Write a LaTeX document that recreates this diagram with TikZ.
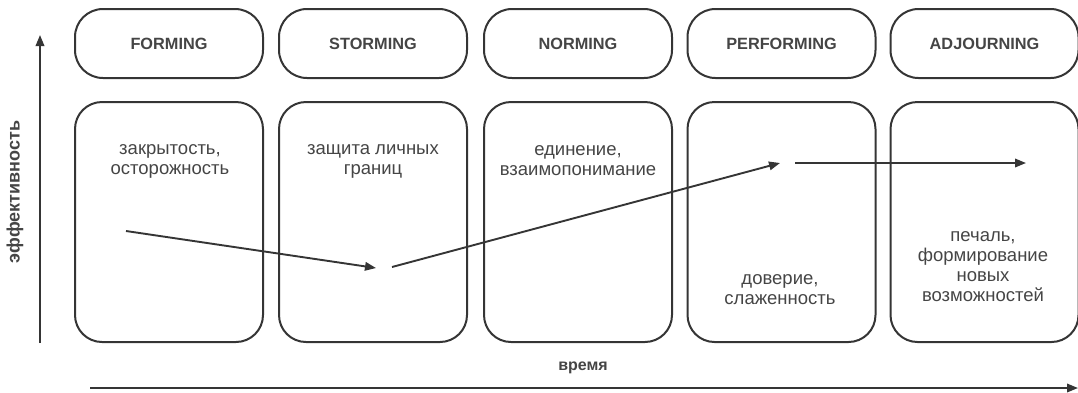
\documentclass[tikz,border=0pt]{standalone}
\usepackage{fontspec}
\setmainfont{Liberation Sans}
\usetikzlibrary{arrows.meta}
\definecolor{ln}{HTML}{353535}
\definecolor{tx}{HTML}{454545}
\tikzset{
  stagebox/.style={draw=ln, line width=2pt, rounded corners=28pt, minimum width=188pt, minimum height=69pt, inner sep=0pt},
  bigbox/.style={draw=ln, line width=2pt, rounded corners=27pt, minimum width=188pt, minimum height=240pt, inner sep=0pt},
  title/.style={text=tx, font=\fontsize{16.3}{19}\selectfont\bfseries},
  desc/.style={text=tx, font=\fontsize{18.5}{20}\selectfont, align=center, inner sep=0pt},
  arr/.style={draw=ln, line width=1.9pt, -{Triangle[length=11pt,width=8.5pt]}},
}
\begin{document}
\begin{tikzpicture}[x=1pt,y=-1pt]
\useasboundingbox (0,0) rectangle (1078,392);
% top stage boxes
\node[stagebox] (s1) at (169,43.5) {};
\node[stagebox] (s2) at (373,43.5) {};
\node[stagebox] (s3) at (578,43.5) {};
\node[stagebox] (s4) at (781.5,43.5) {};
\node[stagebox] (s5) at (984.5,43.5) {};
\node[title] (t1) at (s1) {FORMING};
\node[title] (t2) at (s2) {STORMING};
\node[title] (t3) at (s3) {NORMING};
\node[title] (t4) at (s4) {PERFORMING};
\node[title] (t5) at (s5) {ADJOURNING};
% lower boxes
\node[bigbox] (b1) at (169,222) {};
\node[bigbox] (b2) at (373,222) {};
\node[bigbox] (b3) at (578,222) {};
\node[bigbox] (b4) at (781.5,222) {};
\node[bigbox] (b5) at (984.5,222) {};
\node[desc] (d1) at (170,161) {закрытость,\\осторожность};
\node[desc] (d2) at (373,161) {защита личных\\границ};
\node[desc] (d3) at (578,161) {единение,\\взаимопонимание};
\node[desc] (d4) at (780,290) {доверие,\\слаженность};
\node[desc] (d5) at (983,267) {печаль,\\формирование\\новых\\возможностей};
% trend arrows
\coordinate (p1) at (126,231);
\coordinate (p2) at (376,268);
\coordinate (p3) at (392,267);
\coordinate (p4) at (780,163);
\coordinate (p5) at (795,163);
\coordinate (p6) at (1026,163);
\draw[arr] (p1) -- (p2);
\draw[arr] (p3) -- (p4);
\draw[arr] (p5) -- (p6);
% axes
\coordinate (y0) at (40,343);
\coordinate (y1) at (40,35);
\coordinate (x0) at (90,388);
\coordinate (x1) at (1078,388);
\draw[arr] (y0) -- (y1);
\draw[arr] (x0) -- (x1);
\node[title, rotate=90, font=\fontsize{18}{20}\selectfont\bfseries] (ylab) at (15,192) {эффективность};
\node[title, font=\fontsize{16}{18}\selectfont\bfseries] (xlab) at (583,368) {время};
\end{tikzpicture}
\end{document}
